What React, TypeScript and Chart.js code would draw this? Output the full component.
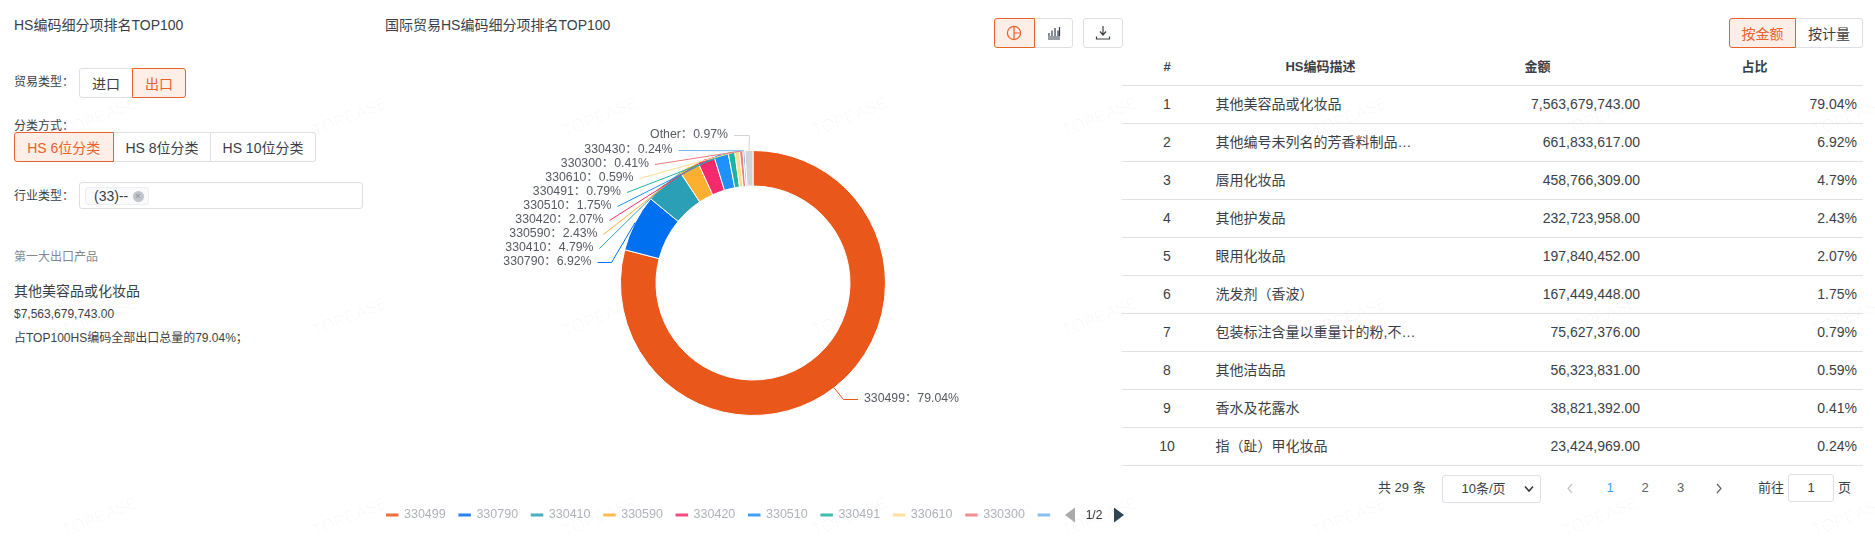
import { useEffect, useRef } from "react"
import type { CSSProperties, ReactNode } from "react"
import Chart from "chart.js/auto"

const hsCodes = ["330499", "330790", "330410", "330590", "330420", "330510", "330491", "330610", "330300", "330430", "Other"]
const shares = [79.04, 6.92, 4.79, 2.43, 2.07, 1.75, 0.79, 0.59, 0.41, 0.24, 0.97]
const sliceColors = ["#e9571b", "#006ff0", "#2b9fb5", "#fdb030", "#f52a6c", "#1f91fb", "#1db3a2", "#fedd8f", "#ef7a7a", "#74b3ee", "#d3d3d3"]

const ranks = ["1", "2", "3", "4", "5", "6", "7", "8", "9", "10"]
const descriptions = [
  "其他美容品或化妆品",
  "其他编号未列名的芳香料制品…",
  "唇用化妆品",
  "其他护发品",
  "眼用化妆品",
  "洗发剂（香波）",
  "包装标注含量以重量计的粉,不…",
  "其他洁齿品",
  "香水及花露水",
  "指（趾）甲化妆品",
]
const amounts = [
  "7,563,679,743.00",
  "661,833,617.00",
  "458,766,309.00",
  "232,723,958.00",
  "197,840,452.00",
  "167,449,448.00",
  "75,627,376.00",
  "56,323,831.00",
  "38,821,392.00",
  "23,424,969.00",
]

const FONT = '"Liberation Sans", "Noto Sans CJK SC", sans-serif'
const ORANGE = "#e8622c"
const ACTIVE_BG = "#fdeee7"
const LINE = "#dcdfe6"
const TEXT = "#3a3f47"

// canvas offset on the page
const CANVAS_LEFT = 373
const CANVAS_TOP = 40
const CANVAS_W = 760
const CANVAS_H = 486

// where each leader line ends on the page: [x, y, elbow x or null]
const leaderEnds: [number, number, number | null][] = [
  [858, 399.5, 843.5],
  [597.5, 262.5, 611.5],
  [599.5, 248.5, null],
  [603.5, 234.5, null],
  [609.5, 220.5, null],
  [617.5, 206.5, null],
  [627, 192.5, null],
  [639.5, 178.5, null],
  [655, 164.5, null],
  [678.5, 150.5, null],
  [734, 135.5, 749.5],
]

const calloutPlugin = {
  id: "callouts",
  afterDatasetsDraw(chart: any) {
    const ctx = chart.ctx
    const arcs = chart.getDatasetMeta(0).data
    ctx.save()
    ctx.font = `12.3px ${FONT}`
    ctx.textBaseline = "middle"
    arcs.forEach((arc: any, i: number) => {
      const { x, y, startAngle, endAngle, outerRadius } = arc.getProps(["x", "y", "startAngle", "endAngle", "outerRadius"], true)
      const mid = (startAngle + endAngle) / 2
      const [endX, endY, elbowX] = leaderEnds[i]
      const ex = endX - CANVAS_LEFT
      const ey = endY - CANVAS_TOP
      ctx.strokeStyle = sliceColors[i]
      ctx.lineWidth = 1
      ctx.beginPath()
      ctx.moveTo(x + Math.cos(mid) * outerRadius, y + Math.sin(mid) * outerRadius)
      if (elbowX !== null) ctx.lineTo(elbowX - CANVAS_LEFT, ey)
      ctx.lineTo(ex, ey)
      ctx.stroke()
      // first slice sits on the right side, the rest on the left
      const text = `${hsCodes[i]}：${shares[i].toFixed(2)}%`
      ctx.fillStyle = "#555a62"
      ctx.textAlign = i === 0 ? "left" : "right"
      ctx.fillText(text, i === 0 ? ex + 6 : ex - 6, ey - 1)
    })
    ctx.restore()
  },
}

const legendPlugin = {
  id: "pagedLegend",
  afterDraw(chart: any) {
    const ctx = chart.ctx
    const top = 515 - CANVAS_TOP
    ctx.save()
    ctx.beginPath()
    ctx.rect(0, top - 12, 1056 - CANVAS_LEFT, 24)
    ctx.clip()
    ctx.font = `12.5px ${FONT}`
    ctx.textBaseline = "middle"
    hsCodes.slice(0, 10).forEach((code, i) => {
      const left = 386 - CANVAS_LEFT + i * 72.4
      ctx.fillStyle = sliceColors[i]
      ctx.globalAlpha = 0.85
      ctx.fillRect(left, top - 1.5, 12.5, 3)
      ctx.globalAlpha = 1
      ctx.fillStyle = "#aeb2ba"
      ctx.fillText(code, left + 18, top)
    })
    ctx.restore()
  },
}

function PieChart() {
  const canvasRef = useRef<HTMLCanvasElement>(null)

  useEffect(() => {
    if (!canvasRef.current) return
    const chart = new Chart(canvasRef.current, {
      type: "doughnut",
      data: {
        labels: hsCodes,
        datasets: [
          {
            data: shares,
            backgroundColor: sliceColors,
            borderColor: "#fff",
            borderWidth: 1,
          },
        ],
      },
      options: {
        responsive: false,
        animation: false,
        radius: 132.5,
        cutout: "73.2%",
        plugins: {
          legend: { display: false },
          tooltip: { enabled: false },
        },
      },
      plugins: [calloutPlugin, legendPlugin],
    } as any)
    return () => chart.destroy()
  }, [])

  return (
    <canvas
      ref={canvasRef}
      width={CANVAS_W}
      height={CANVAS_H}
      style={{ position: "absolute", left: CANVAS_LEFT, top: CANVAS_TOP }}
    />
  )
}

// text centred vertically on y
function Label({ x, y, size = 14, color = TEXT, bold, children, right, center }: {
  x: number
  y: number
  size?: number
  color?: string
  bold?: boolean
  right?: boolean
  center?: boolean
  children: ReactNode
}) {
  const style: CSSProperties = {
    position: "absolute",
    left: x,
    top: y,
    fontSize: size,
    color,
    lineHeight: "20px",
    fontWeight: bold ? 700 : 400,
    whiteSpace: "nowrap",
    transform: `translate(${right ? "-100%" : center ? "-50%" : "0"}, -50%)`,
  }
  return <div style={style}>{children}</div>
}

function Btn({ x, y, w, h = 30, active, radius, children }: {
  x: number
  y: number
  w: number
  h?: number
  active?: boolean
  radius: string
  children: ReactNode
}) {
  return (
    <div
      style={{
        position: "absolute",
        left: x,
        top: y,
        width: w,
        height: h,
        boxSizing: "border-box",
        border: `1px solid ${active ? ORANGE : LINE}`,
        background: active ? ACTIVE_BG : "#fff",
        color: active ? ORANGE : TEXT,
        borderRadius: radius,
        fontSize: 14,
        display: "flex",
        alignItems: "center",
        justifyContent: "center",
        whiteSpace: "nowrap",
        zIndex: active ? 2 : 1,
      }}
    >
      {children}
    </div>
  )
}

function Watermarks() {
  const marks = []
  for (const y of [117, 317, 517]) {
    for (const x of [100, 350, 600, 850, 1100, 1350, 1600, 1850]) {
      marks.push(
        <div
          key={`${x}-${y}`}
          style={{
            position: "absolute",
            left: x,
            top: y,
            transform: "translate(-50%, -50%) rotate(-22deg)",
            fontSize: 17,
            color: "rgba(0,0,0,0.03)",
            whiteSpace: "nowrap",
          }}
        >
          TOPEASE
        </div>,
      )
    }
  }
  return <>{marks}</>
}

function Table() {
  const rowH = 38
  return (
    <>
      <Label x={1167} y={67} center bold size={13}>#</Label>
      <Label x={1320.5} y={67} center bold size={13}>HS编码描述</Label>
      <Label x={1537.5} y={67} center bold size={13}>金额</Label>
      <Label x={1754.5} y={67} center bold size={13}>占比</Label>
      <div style={{ position: "absolute", left: 1122, top: 85, width: 741, height: 1, background: "#dfe1e5" }} />
      {ranks.map((rank, i) => {
        const cy = 104 + i * rowH
        return (
          <div key={rank}>
            <Label x={1167} y={cy} center>{rank}</Label>
            <Label x={1215.5} y={cy}>{descriptions[i]}</Label>
            <Label x={1640} y={cy} right>{amounts[i]}</Label>
            <Label x={1857} y={cy} right>{shares[i].toFixed(2)}%</Label>
            <div style={{ position: "absolute", left: 1122, top: cy + 19, width: 741, height: 1, background: "#dfe1e5" }} />
          </div>
        )
      })}
    </>
  )
}

function Pager() {
  return (
    <>
      <Label x={1378} y={488} size={13}>共 29 条</Label>
      <div style={{ position: "absolute", left: 1442, top: 475, width: 99, height: 28, boxSizing: "border-box", border: `1px solid ${LINE}`, borderRadius: 3 }} />
      <Label x={1461.5} y={488.5} size={13}>10条/页</Label>
      <svg style={{ position: "absolute", left: 1524, top: 485 }} width="10" height="8">
        <path d="M1 1.5 L5 6 L9 1.5" fill="none" stroke="#333" strokeWidth="1.5" />
      </svg>
      <svg style={{ position: "absolute", left: 1566, top: 483 }} width="8" height="11">
        <path d="M6 1 L2 5.5 L6 10" fill="none" stroke="#c0c4cc" strokeWidth="1.2" />
      </svg>
      <Label x={1610} y={488} size={13} center color="#409eff">1</Label>
      <Label x={1645} y={488} size={13} center color="#606266">2</Label>
      <Label x={1680.5} y={488} size={13} center color="#606266">3</Label>
      <svg style={{ position: "absolute", left: 1715, top: 483 }} width="8" height="11">
        <path d="M2 1 L6 5.5 L2 10" fill="none" stroke="#606266" strokeWidth="1.2" />
      </svg>
      <Label x={1758} y={488} size={13}>前往</Label>
      <div style={{ position: "absolute", left: 1788, top: 474, width: 46, height: 28, boxSizing: "border-box", border: `1px solid ${LINE}`, borderRadius: 3 }} />
      <Label x={1811} y={488} size={13} center>1</Label>
      <Label x={1838} y={488} size={13}>页</Label>
    </>
  )
}

export default function App() {
  useEffect(() => {
    document.body.style.margin = "0"
  }, [])

  return (
    <div style={{ position: "relative", width: 1875, height: 540, overflow: "hidden", fontFamily: FONT, background: "#fff" }}>
      <Watermarks />

      <Label x={14} y={25}>HS编码细分项排名TOP100</Label>
      <Label x={385} y={25}>国际贸易HS编码细分项排名TOP100</Label>

      <Label x={14} y={82} size={12}>贸易类型：</Label>
      <Btn x={79} y={68} w={54} radius="3px 0 0 3px">进口</Btn>
      <Btn x={132} y={68} w={54} active radius="0 3px 3px 0">出口</Btn>

      <Label x={14} y={126} size={12}>分类方式：</Label>
      <Btn x={14} y={132} w={99.5} active radius="3px 0 0 3px">HS 6位分类</Btn>
      <Btn x={113} y={132} w={98} radius="0">HS 8位分类</Btn>
      <Btn x={210} y={132} w={106} radius="0 3px 3px 0">HS 10位分类</Btn>

      <Label x={14} y={196} size={12}>行业类型：</Label>
      <div style={{ position: "absolute", left: 79, top: 182, width: 284, height: 27, boxSizing: "border-box", border: `1px solid ${LINE}`, borderRadius: 3 }} />
      <div style={{ position: "absolute", left: 85, top: 187, width: 64, height: 18, boxSizing: "border-box", border: "1px solid #ebeef5", background: "#fafafa", borderRadius: 3 }} />
      <Label x={94} y={196}>(33)--</Label>
      <div style={{ position: "absolute", left: 132.5, top: 190.5, width: 11, height: 11, borderRadius: "50%", background: "#c0c4cc", color: "#8a8f98", fontSize: 9, lineHeight: "11px", textAlign: "center" }}>×</div>

      <Label x={14} y={257} size={12} color="#85898f">第一大出口产品</Label>
      <Label x={14} y={291}>其他美容品或化妆品</Label>
      <Label x={14} y={314} size={12}>$7,563,679,743.00</Label>
      <Label x={14} y={338} size={12}>占TOP100HS编码全部出口总量的79.04%；</Label>

      <Btn x={994} y={18} w={40.5} active radius="3px 0 0 3px">
        <svg width="16" height="16" viewBox="0 0 16 16" fill="none" stroke={ORANGE} strokeWidth="1.2">
          <circle cx="8" cy="8" r="6.6" />
          <path d="M8 1.5 V14.5 M8 8 H14.5" />
        </svg>
      </Btn>
      <Btn x={1034} y={18} w={39} radius="0 3px 3px 0">
        <svg width="16" height="16" viewBox="0 0 16 16" fill="none" stroke="#2f3a4a" strokeWidth="1.2">
          <path d="M2 14 H14 M2 12 H14 M3 11 V8 M6 11 V5.5 M9 11 V3 M12 11 V5.5 M13.5 11 V2" />
        </svg>
      </Btn>
      <Btn x={1083} y={18} w={39.5} radius="3px">
        <svg width="16" height="16" viewBox="0 0 16 16" fill="none" stroke="#3a3f47" strokeWidth="1.2">
          <path d="M8 1 V9 M5 6.5 L8 10 L11 6.5 M1.5 11.5 V14 H14.5 V11.5" />
        </svg>
      </Btn>

      <Btn x={1729} y={18} w={67} active radius="3px 0 0 3px">按金额</Btn>
      <Btn x={1795} y={18} w={68} radius="0 3px 3px 0">按计量</Btn>

      <Table />
      <Pager />

      <PieChart />

      <svg style={{ position: "absolute", left: 1064, top: 507 }} width="12" height="16">
        <path d="M11 0.5 V15.5 L1 8 Z" fill="#aaaaaa" />
      </svg>
      <Label x={1094} y={515} size={12} center color="#333">1/2</Label>
      <svg style={{ position: "absolute", left: 1113, top: 507 }} width="12" height="16">
        <path d="M1 0.5 V15.5 L11 8 Z" fill="#2f4554" />
      </svg>
    </div>
  )
}
